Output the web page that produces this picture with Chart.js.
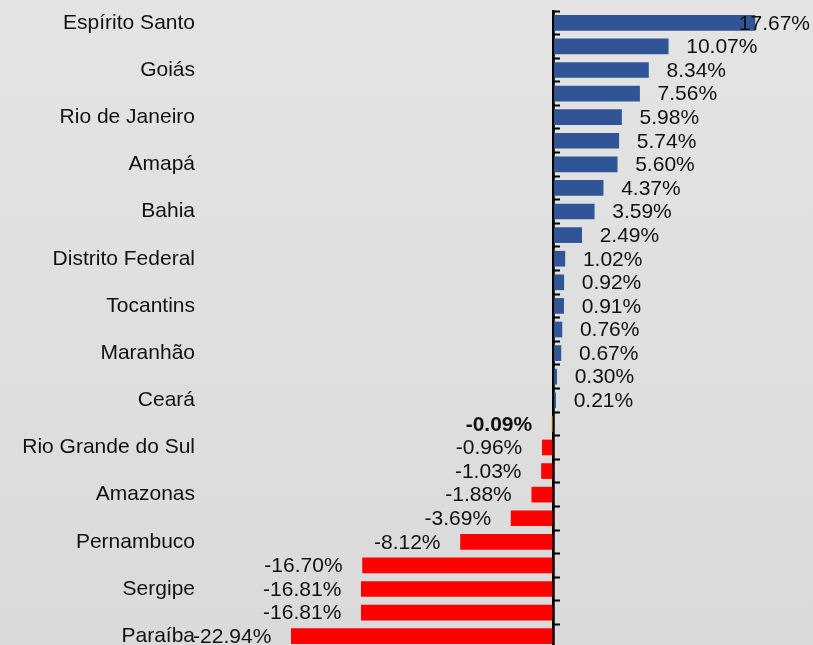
<!DOCTYPE html>
<html>
<head>
<meta charset="utf-8">
<script src="https://cdn.jsdelivr.net/npm/chart.js@4/dist/chart.umd.min.js"></script>
<style>
  html, body { margin: 0; padding: 0; overflow: hidden; }
  body { width: 813px; height: 645px; background: linear-gradient(#e4e4e4, #dadada); }
  canvas { display: block; }
</style>
</head>
<body>
<canvas id="chart" width="813" height="648"></canvas>
<script>
// Estados (um rótulo sim, outro não aparece no eixo)
const estados = [
    "Espírito Santo", "Mato Grosso", "Goiás", "Santa Catarina", "Rio de Janeiro",
    "Paraná", "Amapá", "Minas Gerais", "Bahia", "Mato Grosso do Sul",
    "Distrito Federal", "Pará", "Tocantins", "Rondônia", "Maranhão",
    "Piauí", "Ceará", "Brasil", "Rio Grande do Sul", "São Paulo",
    "Amazonas", "Alagoas", "Pernambuco", "Rio Grande do Norte", "Sergipe",
    "Roraima", "Paraíba"
];

// Variação (%)
const variacao = [
    17.67, 10.07, 8.34, 7.56, 5.98,
    5.74, 5.60, 4.37, 3.59, 2.49,
    1.02, 0.92, 0.91, 0.76, 0.67,
    0.30, 0.21, -0.09, -0.96, -1.03,
    -1.88, -3.69, -8.12, -16.70, -16.81,
    -16.81, -22.94
];

const destaque = "Brasil";

const cores = variacao.map((v, i) => {
    if (estados[i] === destaque) return "#DDAA00";
    return v >= 0 ? "#2F5597" : "#FF0000";
});

// Rótulos de valor nas pontas das barras
const rotulosValor = {
    id: "rotulosValor",
    afterDatasetsDraw(chart) {
        const ctx = chart.ctx;
        const meta = chart.getDatasetMeta(0);
        ctx.save();
        ctx.fillStyle = "#111";
        ctx.textBaseline = "middle";
        meta.data.forEach((bar, i) => {
            const v = variacao[i];
            const txt = v.toFixed(2) + "%";
            const bold = estados[i] === destaque;
            ctx.font = (bold ? "bold " : "") + "21px 'Liberation Sans', Arial, sans-serif";
            const w = ctx.measureText(txt).width;
            let x;
            if (v >= 0) {
                x = bar.x + 18;
                if (x + w > chart.width - 3) x = chart.width - 3 - w;
            } else {
                x = bar.x - 20 - w;
            }
            ctx.textAlign = "left";
            ctx.fillText(txt, x, bar.y + 1);
        });
        ctx.restore();
    }
};

const ctx = document.getElementById("chart").getContext("2d");

new Chart(ctx, {
    type: "bar",
    data: {
        labels: estados,
        datasets: [{
            data: variacao,
            backgroundColor: cores,
            borderWidth: 0,
            barThickness: 15,
        }]
    },
    options: {
        indexAxis: "y",
        responsive: false,
        animation: false,
        layout: { padding: { top: 11, right: 0, bottom: 0, left: 0 } },
        plugins: {
            legend: { display: false },
            tooltip: { enabled: false }
        },
        scales: {
            // só a linha do zero, por cima das barras
            x: {
                min: -30.5,
                max: 22.75,
                z: 1,
                ticks: { display: false, stepSize: 0.5 },
                border: { display: false },
                grid: {
                    drawTicks: false,
                    color: c => c.tick && c.tick.value === 0 ? "#000" : "rgba(0,0,0,0)",
                    lineWidth: c => c.tick && c.tick.value === 0 ? 2.5 : 0,
                }
            },
            y: {
                position: "left",
                grid: { display: false, drawTicks: false },
                border: { display: false },
                ticks: {
                    autoSkip: false,
                    padding: 10,
                    color: "#111",
                    font: { family: "'Liberation Sans', Arial, sans-serif", size: 21 },
                    callback: function(value, index) {
                        return index % 2 === 0 ? estados[index] : "";
                    }
                },
                afterFit: function(scale) {
                    scale.width = 205;
                    scale.paddingTop = 0;
                    scale.paddingBottom = 0;
                }
            },
            // marcas de divisão à direita da linha do zero
            y2: {
                type: "category",
                position: { x: 0 },
                offset: true,
                z: 1,
                ticks: { display: false },
                grid: {
                    offset: true,
                    drawOnChartArea: false,
                    drawTicks: true,
                    tickLength: -8,
                    tickColor: "#000",
                    tickWidth: 2,
                },
                border: { display: true, color: "#000", width: 2.5 },
                afterFit: function(scale) {
                    scale.paddingTop = 0;
                    scale.paddingBottom = 0;
                }
            }
        }
    },
    plugins: [rotulosValor]
});
</script>
</body>
</html>
